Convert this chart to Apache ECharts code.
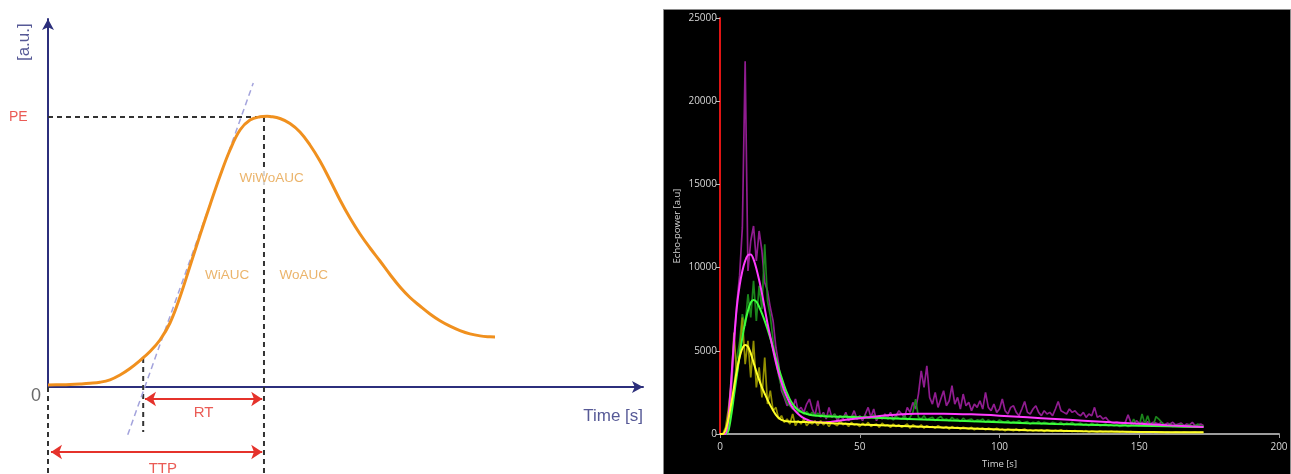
<!DOCTYPE html>
<html>
<head>
<meta charset="utf-8">
<title>Time-intensity curve</title>
<script src="https://cdn.jsdelivr.net/npm/echarts@6/dist/echarts.min.js"></script>
<style>
  html, body { margin: 0; padding: 0; background: #fff; }
  #chart { width: 1291px; height: 474px; }
</style>
</head>
<body>
<div id="chart"></div>
<script>
// ---- Schematic time-intensity curve (arbitrary units, 0..100 on both axes) ----
const schemTime = [0, 2.02, 3.70, 5.38, 7.06, 8.74, 10.42, 12.10, 13.78, 15.46, 17.14, 18.82,
  20.50, 22.18, 23.87, 25.55, 27.23, 28.91, 30.59, 32.27, 33.95, 35.63, 36.81, 37.31, 38.99,
  40.67, 42.35, 44.03, 45.71, 47.39, 49.08, 50.76, 52.44, 54.12, 55.80, 57.48, 59.16, 60.84,
  62.52, 64.20, 65.88, 67.56, 69.24, 70.92, 72.61, 74.29, 75.13];
const schemIntensity = [0.54, 0.60, 0.68, 0.82, 1.01, 1.30, 1.96, 3.26, 5.03, 7.20, 9.65, 12.77,
  17.39, 24.46, 32.88, 41.30, 49.46, 57.34, 64.40, 69.84, 72.55, 73.42, 73.56, 73.51, 72.96,
  71.60, 69.29, 65.76, 61.41, 56.25, 50.82, 45.92, 41.58, 37.77, 34.24, 30.57, 27.17, 24.32,
  22.01, 19.84, 17.99, 16.52, 15.33, 14.43, 13.89, 13.64, 13.59];
const peakEnhancement = 73.4;      // PE
const timeToPeak = 36.3;           // TTP
const riseStart = 16.0;            // start of RT
const riseStartLevel = 7.9;        // curve level at the start of RT
const tangentTime = [13.4, 34.5];  // wash-in tangent end points
const tangentLevel = [-13.0, 82.6];

// ---- Measured echo-power (raw, one sample per second from t = 0) ----
const RAW_STEP = 1;
const rawMagenta = [
  0,0,0,300,2500,5200,7800,9500,12400,22400,
  9800,11600,12500,10400,12200,11000,9100,8600,7600,6800,
  5200,4200,2600,2200,1700,1900,1500,2100,1400,1600,
  1300,1800,2100,1500,1100,2000,1000,1300,900,1600,
  1000,1200,800,1100,900,1300,800,1000,1400,900,
  1100,800,1200,1600,1000,1500,800,1100,900,1200,
  1000,1300,900,1100,1400,1200,1000,1600,1300,1900,
  1500,2400,3800,2800,4100,2200,1800,2500,1600,2100,
  2600,1700,2000,2900,1800,2200,1500,2400,1700,1900,
  1400,1800,1600,2000,1500,2500,1600,1400,1800,1300,
  1500,2100,1400,1200,1600,1700,1300,1100,1500,1950,
  1300,1200,1500,1700,1300,1100,1400,1200,1300,1100,
  1500,1950,1400,1300,1200,1500,1300,1400,1200,1100,
  1300,1000,1200,1100,1600,1000,1100,900,1000,800,
  700,650,700,650,600,700,1150,700,600,800,
  650,700,600,750,600,700,650,600,700,550,
  650,600,700,550,600,650,500,600,550,700,
  500,550,600,500];
const rawGreen = [
  0,0,0,200,1500,2800,4500,5500,7200,6500,
  8400,7000,9200,6800,8900,7500,11400,8000,7100,5600,
  4400,3500,2800,2300,1900,1700,1500,1600,1300,1400,
  1200,1350,1150,1300,1100,1250,1100,1200,1000,1150,
  1050,1200,950,1100,1000,1150,950,1050,1100,900,
  1050,900,1100,950,1000,1150,900,1000,950,1100,
  900,1000,850,1050,950,900,1100,850,1000,1300,
  2100,1000,900,1100,850,950,1000,800,950,1050,
  850,900,800,1000,850,900,750,950,800,850,
  900,750,850,800,900,700,850,750,800,700,
  850,750,700,800,650,750,700,800,650,700,
  750,600,700,650,750,600,700,650,600,700,
  650,600,700,550,650,600,700,550,600,650,
  550,600,500,650,550,600,500,550,600,500,
  550,500,550,450,500,550,450,500,900,550,
  500,1200,600,1100,550,500,1050,900,700,550,
  500,600,450,550,500,600,450,500,550,450,
  500,600,450,500];
const rawYellow = [
  0,0,400,1500,3000,6100,3500,4800,7000,4200,
  5600,3400,5600,2800,4000,2200,4600,1800,2600,1400,
  1600,900,1100,700,900,600,1200,500,800,600,
  900,500,700,600,800,500,800,550,700,450,
  750,600,500,800,550,650,450,700,550,600,
  450,650,500,700,450,550,600,400,650,500,
  550,400,600,450,550,400,500,600,350,550,
  450,400,550,350,500,400,450,350,500,400,
  350,450,300,450,350,400,300,400,350,300,
  400,250,350,300,350,250,350,300,250,350,
  250,300,200,300,250,200,300,200,250,300,
  200,250,180,250,200,250,150,250,200,150,
  220,180,250,150,200,180,150,200,150,180,
  150,200,120,180,150,120,170,130,150,120,
  160,120,140,110,150,120,100,140,120,100,
  130,110,100,130,110,100,120,100,110,90,
  120,100,90,110,100,90,110,100,90,100,
  110,90,100,90];

// ---- Fitted curves ----
const fitTime = [0,1,2,3,4,5,6,7,8,9,10,11,12,13,14,15,16,17,18,19,20,
  21,22,23,24,25,26,27,28,29,30,31,32,33,34,35,36,37,38,39,40,
  45,50,55,60,65,70,75,80,90,100,110,120,130,140,150,160,173];
const fitMagenta = [0,0,0,1000,3200,5600,7600,8900,9800,10400,10750,
  10780,10500,9950,9250,8450,7550,6650,5850,5050,4300,
  3650,3100,2600,2200,1850,1580,1370,1200,1060,950,
  870,800,750,720,700,690,690,700,715,740,
  850,950,1040,1120,1180,1210,1220,1220,1180,1100,1000,900,800,700,610,520,420];
const fitGreen = [0,0,0,200,1100,2300,3500,4700,5800,6700,7400,
  7900,8050,7950,7650,7250,6800,6300,5750,5150,4550,
  3950,3400,2900,2450,2080,1800,1590,1440,1330,1260,
  1200,1160,1130,1110,1090,1080,1070,1060,1055,1050,
  1030,1000,970,940,910,880,850,820,760,710,650,600,560,520,490,460,420];
const fitYellow = [0,0,250,900,1800,2800,3800,4600,5150,5350,5250,
  4850,4300,3750,3250,2800,2420,2050,1720,1420,1150,
  960,850,790,760,745,740,735,730,725,720,
  715,710,705,700,695,690,680,670,660,650,
  610,570,540,510,480,450,420,390,330,270,230,200,170,145,125,110,100];

// ---- helpers ----
const pairs = (xs, ys) => ys.map((v, i) => [xs[i], v]);
const rawPairs = ys => ys.map((v, i) => [i * RAW_STEP, v]);

const NAVY = '#2c2f7c';
const RED = '#e5322b';
const ORANGE_LINE = '#f0901e';
const ORANGE_TEXT = '#e6a146';
const DASH = '#333333';
const FONT = 'Liberation Sans, Arial, sans-serif';
const PANEL_FONT = 'Open Sans, sans-serif';

function dashed(data, color, width, dash) {
  return {
    type: 'line', xAxisIndex: 0, yAxisIndex: 0, data, symbol: 'none', clip: false,
    silent: true, z: 3,
    lineStyle: { color, width, type: dash }
  };
}
function arrow(x1, x2, y) {
  return { coords: [[x1, y], [x2, y]] };
}
function note(text, x, y, color, size, extra) {
  return {
    value: [x, y],
    label: Object.assign({
      show: true, formatter: text, position: 'inside', color,
      fontSize: size, fontFamily: FONT
    }, extra || {})
  };
}

const rtLevel = -3.26, ttpLevel = -17.66, bottomLevel = -24;

const chart = echarts.init(document.getElementById('chart'), null, { renderer: 'canvas' });
chart.setOption({
  animation: false,
  backgroundColor: '#ffffff',
  graphic: [{
    type: 'rect', z: -100,
    shape: { x: 663.5, y: 9.5, width: 627, height: 470 },
    style: { fill: '#000000', stroke: '#8a8a8a', lineWidth: 1 }
  }],
  grid: [
    { left: 48, top: 19, width: 595, height: 368 },
    { left: 720, top: 18, width: 559, height: 419 }
  ],
  xAxis: [
    {
      gridIndex: 0, type: 'value', min: 0, max: 100,
      axisLine: { show: true, symbol: ['none', 'arrow'], symbolSize: [9, 11],
        lineStyle: { color: NAVY, width: 2 } },
      axisTick: { show: false }, axisLabel: { show: false }, splitLine: { show: false }
    },
    {
      gridIndex: 1, type: 'value', min: 0, max: 200, interval: 50,
      axisLine: { show: true, lineStyle: { color: '#9c9c9c', width: 2 } },
      axisTick: { show: true, length: 4, lineStyle: { color: '#9c9c9c' } },
      axisLabel: { color: '#d6d6d6', fontSize: 10, margin: 8,
        fontFamily: PANEL_FONT, formatter: v => String(v) },
      splitLine: { show: false },
      name: 'Time [s]', nameLocation: 'middle', nameGap: 25,
      nameTextStyle: { color: '#d6d6d6', fontSize: 9.5, fontFamily: PANEL_FONT }
    }
  ],
  yAxis: [
    {
      gridIndex: 0, type: 'value', min: 0, max: 100,
      axisLine: { show: true, symbol: ['none', 'arrow'], symbolSize: [9, 11],
        lineStyle: { color: NAVY, width: 2 } },
      axisTick: { show: false }, axisLabel: { show: false }, splitLine: { show: false }
    },
    {
      gridIndex: 1, type: 'value', min: 0, max: 25000, interval: 5000,
      axisLine: { show: true, lineStyle: { color: '#e01414', width: 2 } },
      axisTick: { show: true, length: 4, lineStyle: { color: '#bdbdbd' } },
      axisLabel: { color: '#d6d6d6', fontSize: 10, margin: 3,
        fontFamily: PANEL_FONT, formatter: v => String(v) },
      splitLine: { show: false },
      name: 'Echo-power [a.u]', nameLocation: 'middle', nameGap: 38,
      nameTextStyle: { color: '#d6d6d6', fontSize: 9.5, fontFamily: PANEL_FONT }
    }
  ],
  series: [
    // schematic: guide lines
    dashed([[0, peakEnhancement], [timeToPeak, peakEnhancement]], DASH, 2, [5, 4]),
    dashed([[timeToPeak, peakEnhancement], [timeToPeak, bottomLevel]], DASH, 2, [5, 4]),
    dashed([[riseStart, riseStartLevel], [riseStart, -12.2]], DASH, 2, [5, 4]),
    dashed([[0, 0], [0, bottomLevel]], DASH, 2, [5, 4]),
    dashed(pairs(tangentTime, tangentLevel), '#a3a3dc', 1.5, [6, 4]),
    {
      type: 'line', xAxisIndex: 0, yAxisIndex: 0, z: 4,
      data: pairs(schemTime, schemIntensity), smooth: 0.4,
      symbol: 'none', clip: false,
      lineStyle: { color: ORANGE_LINE, width: 3 }
    },
    {
      type: 'lines', coordinateSystem: 'cartesian2d', xAxisIndex: 0, yAxisIndex: 0,
      clip: false, z: 5, symbol: ['arrow', 'arrow'], symbolSize: 11,
      lineStyle: { color: RED, width: 2, opacity: 1 },
      data: [arrow(riseStart + 0.3, timeToPeak - 0.3, rtLevel), arrow(0.5, timeToPeak - 0.3, ttpLevel)]
    },
    {
      type: 'scatter', xAxisIndex: 0, yAxisIndex: 0, clip: false, z: 6,
      symbolSize: 1, itemStyle: { color: 'rgba(0,0,0,0)' }, silent: true,
      data: [
        note('PE', -5.0, peakEnhancement, RED, 14),
        note('0', -2.0, -2.4, '#444444', 18),
        note('[a.u.]', -4.0, 93.7, NAVY, 17, { rotate: 90 }),
        note('Time [s]', 100, -8.1, NAVY, 17, { align: 'right' }),
        note('WiWoAUC', 37.6, 56.6, ORANGE_TEXT, 13.5,
          { backgroundColor: '#ffffff', padding: [3, 0, 3, 0] }),
        note('WiAUC', 30.1, 30.4, ORANGE_TEXT, 13.5),
        note('WoAUC', 43.0, 30.4, ORANGE_TEXT, 13.5),
        note('RT', (riseStart + timeToPeak) / 2, -7.0, RED, 15),
        note('TTP', 19.3, -22.2, RED, 15)
      ]
    },
    // measured echo-power
    {
      type: 'line', xAxisIndex: 1, yAxisIndex: 1, data: rawPairs(rawMagenta), symbol: 'none',
      z: 2, lineStyle: { color: '#a01fa0', width: 1.7, opacity: 0.9 }
    },
    {
      type: 'line', xAxisIndex: 1, yAxisIndex: 1, data: rawPairs(rawGreen), symbol: 'none',
      z: 2, lineStyle: { color: '#1e921e', width: 1.7, opacity: 0.9 }
    },
    {
      type: 'line', xAxisIndex: 1, yAxisIndex: 1, data: rawPairs(rawYellow), symbol: 'none',
      z: 2, lineStyle: { color: '#a29e00', width: 1.7, opacity: 0.9 }
    },
    // fits
    {
      type: 'line', xAxisIndex: 1, yAxisIndex: 1, data: pairs(fitTime, fitGreen), symbol: 'none',
      smooth: 0.3, z: 3, lineStyle: { color: '#3cff3c', width: 2 }
    },
    {
      type: 'line', xAxisIndex: 1, yAxisIndex: 1, data: pairs(fitTime, fitMagenta), symbol: 'none',
      smooth: 0.3, z: 3, lineStyle: { color: '#ff3cff', width: 2 }
    },
    {
      type: 'line', xAxisIndex: 1, yAxisIndex: 1, data: pairs(fitTime, fitYellow), symbol: 'none',
      smooth: 0.3, z: 4, lineStyle: { color: '#ffff28', width: 2 }
    }
  ]
});
</script>
</body>
</html>
